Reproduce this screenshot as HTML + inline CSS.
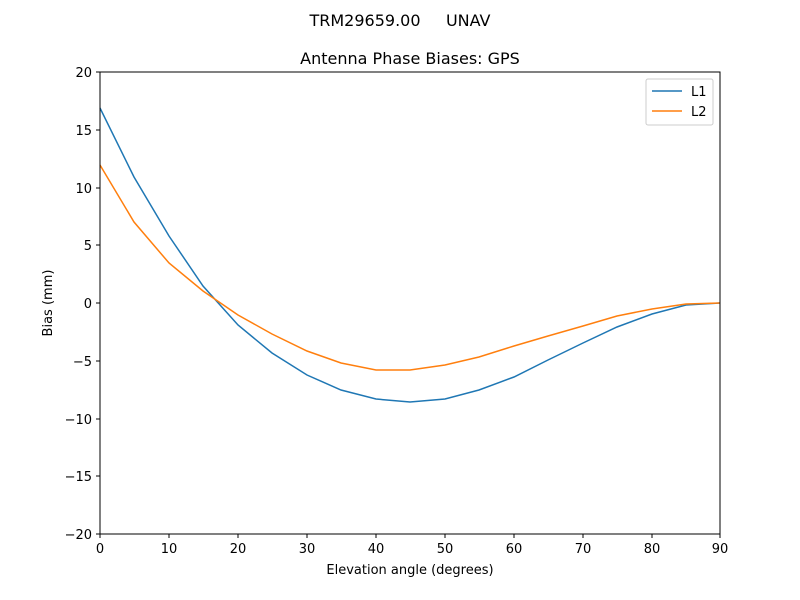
<!DOCTYPE html>
<html><head><meta charset="utf-8"><style>body{margin:0;background:#fff}svg{display:block}text{font-family:"DejaVu Sans","Liberation Sans",sans-serif;fill:#000;white-space:pre}</style></head><body>
<svg width="800" height="600" viewBox="0 0 800 600">
<rect width="800" height="600" fill="#fff"/>
<text x="400" y="26" font-size="16" text-anchor="middle">TRM29659.00&#160;&#160;&#160;&#160;&#160;UNAV</text>
<text x="410" y="64" font-size="16" text-anchor="middle">Antenna Phase Biases: GPS</text>
<g stroke="#000" stroke-width="1">
<line x1="100" y1="534" x2="100" y2="538"/><line x1="169" y1="534" x2="169" y2="538"/><line x1="238" y1="534" x2="238" y2="538"/><line x1="307" y1="534" x2="307" y2="538"/><line x1="376" y1="534" x2="376" y2="538"/><line x1="445" y1="534" x2="445" y2="538"/><line x1="514" y1="534" x2="514" y2="538"/><line x1="583" y1="534" x2="583" y2="538"/><line x1="652" y1="534" x2="652" y2="538"/><line x1="720" y1="534" x2="720" y2="538"/>
<line x1="96" y1="72" x2="100" y2="72"/><line x1="96" y1="130" x2="100" y2="130"/><line x1="96" y1="188" x2="100" y2="188"/><line x1="96" y1="245" x2="100" y2="245"/><line x1="96" y1="303" x2="100" y2="303"/><line x1="96" y1="361" x2="100" y2="361"/><line x1="96" y1="419" x2="100" y2="419"/><line x1="96" y1="476" x2="100" y2="476"/><line x1="96" y1="534" x2="100" y2="534"/>
</g>
<g font-size="13" text-anchor="middle">
<text x="100" y="553">0</text><text x="169" y="553">10</text><text x="238" y="553">20</text><text x="307" y="553">30</text><text x="376" y="553">40</text><text x="445" y="553">50</text><text x="514" y="553">60</text><text x="583" y="553">70</text><text x="652" y="553">80</text><text x="720" y="553">90</text>
</g>
<g font-size="13" text-anchor="end">
<text x="92" y="77">20</text><text x="92" y="135">15</text><text x="92" y="193">10</text><text x="92" y="250">5</text><text x="92" y="308">0</text><text x="92" y="366">−5</text><text x="92" y="424">−10</text><text x="92" y="481">−15</text><text x="92" y="539">−20</text>
</g>
<text x="410" y="574" font-size="13" text-anchor="middle">Elevation angle (degrees)</text>
<text transform="translate(52,303) rotate(-90)" font-size="13" text-anchor="middle">Bias (mm)</text>
<polyline fill="none" stroke="#1f77b4" stroke-width="1.5" points="100,108 134,177 169,236 203,286 238,325 272,353 307,375 341,390 376,399 410,402 445,399 479,390 514,377 548,360 583,343 617,327 652,314 686,305 720,303"/>
<polyline fill="none" stroke="#ff7f0e" stroke-width="1.5" points="100,165 134,222 169,263 203,291 238,315 272,334 307,351 341,363 376,370 410,370 445,365 479,357 514,346 548,336 583,326 617,316 652,309 686,304 720,303"/>
<rect x="100" y="72" width="620" height="462" fill="none" stroke="#000" stroke-width="1"/>
<rect x="646" y="79" width="67" height="46" rx="2" fill="#fff" stroke="#ccc"/>
<line x1="652" y1="91" x2="682" y2="91" stroke="#1f77b4" stroke-width="1.5"/>
<line x1="652" y1="111" x2="682" y2="111" stroke="#ff7f0e" stroke-width="1.5"/>
<text x="691" y="96" font-size="13">L1</text>
<text x="691" y="116" font-size="13">L2</text>
</svg>
</body></html>
